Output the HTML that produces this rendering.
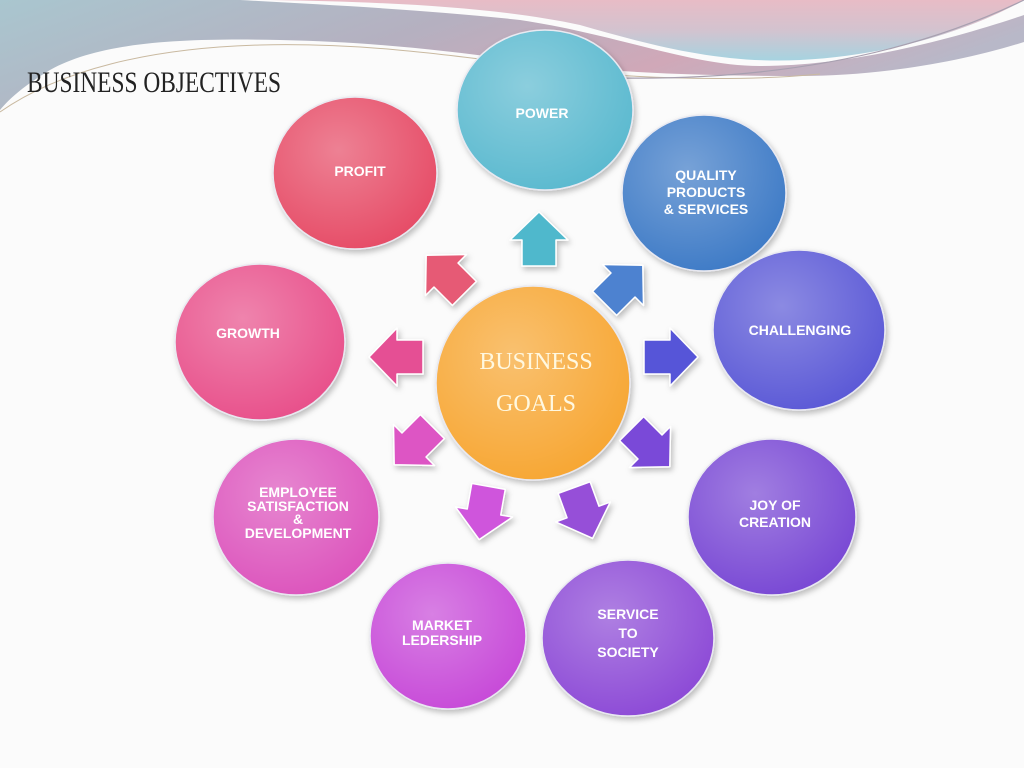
<!DOCTYPE html>
<html><head><meta charset="utf-8"><style>
html,body{margin:0;padding:0;background:#fff;}
svg{display:block}
.t{font-family:"Liberation Sans",sans-serif;font-weight:bold;fill:#fff;text-anchor:middle;font-size:14px;}
</style></head><body>
<svg width="1024" height="768" viewBox="0 0 1024 768" xmlns="http://www.w3.org/2000/svg">
<defs>
<linearGradient id="bgL" x1="0" y1="0" x2="1" y2="0.3">
<stop offset="0" stop-color="#a9c6cf"/><stop offset="0.45" stop-color="#b5b0c0"/><stop offset="0.75" stop-color="#d0a8b8"/><stop offset="1" stop-color="#b8b8c8"/></linearGradient>
<linearGradient id="bgR" x1="0" y1="0" x2="0" y2="1">
<stop offset="0" stop-color="#e8bcc6"/><stop offset="0.5" stop-color="#d3c3cf"/><stop offset="1" stop-color="#a6d3e0"/></linearGradient>
<radialGradient id="g" cx="0.4" cy="0.35" r="0.7"><stop offset="0" stop-color="#fff" stop-opacity="0.3"/><stop offset="1" stop-color="#fff" stop-opacity="0"/></radialGradient>
<filter id="sh" x="-20%" y="-20%" width="140%" height="140%"><feDropShadow dx="2" dy="3" stdDeviation="3" flood-color="#000" flood-opacity="0.25"/></filter>
<g id="ar"><path d="M-17,26 L-17,0 L-29,0 L0,-28 L29,0 L17,0 L17,26 Z" stroke="#fff" stroke-width="1.5" stroke-linejoin="round"/></g>
</defs>
<rect width="1024" height="768" fill="#fbfbfb"/>
<path d="M0,0 L240,0 C330,5 430,10 520,20 C620,35 690,66 760,66 C850,66 950,40 1024,15 L1024,42 C960,62 880,76 800,76 C720,76 640,74 560,66 C460,52 380,42 280,40 C180,38 100,42 50,70 C25,85 10,98 0,110 Z" fill="url(#bgL)"/>
<path d="M270,0 L1024,0 C980,25 900,55 800,60 C720,64 650,45 580,25 C500,8 400,2 270,0 Z" fill="url(#bgR)"/>
<path d="M0,112 C60,70 150,48 260,45 C380,42 480,60 600,74 C680,80 760,80 820,74" stroke="#c9b9a0" stroke-width="1" fill="none"/>
<path d="M620,78 C760,80 900,60 1024,0" stroke="#a8a0b0" stroke-width="1.2" fill="none"/>
<text x="27" y="92" font-family="Liberation Serif,serif" font-size="30" fill="#222" transform="scale(0.78,1)" style="transform-origin:27px 92px">BUSINESS OBJECTIVES</text>

<g filter="url(#sh)" stroke="#e8e8f0" stroke-width="1.5">
<ellipse cx="545" cy="110" rx="88" ry="80" fill="#5ab9cf"/>
<ellipse cx="355" cy="173" rx="82" ry="76" fill="#e64c66"/>
<ellipse cx="704" cy="193" rx="82" ry="78" fill="#3d7ac6"/>
<ellipse cx="260" cy="342" rx="85" ry="78" fill="#e8508a"/>
<ellipse cx="799" cy="330" rx="86" ry="80" fill="#5a58d6"/>
<ellipse cx="296" cy="517" rx="83" ry="78" fill="#dc52bc"/>
<ellipse cx="772" cy="517" rx="84" ry="78" fill="#7846d4"/>
<ellipse cx="448" cy="636" rx="78" ry="73" fill="#c74ad8"/>
<ellipse cx="628" cy="638" rx="86" ry="78" fill="#8c48d6"/>
<circle cx="533" cy="383" r="97" fill="#f7a631"/>
</g>
<g>
<ellipse cx="545" cy="110" rx="88" ry="80" fill="url(#g)"/>
<ellipse cx="355" cy="173" rx="82" ry="76" fill="url(#g)"/>
<ellipse cx="704" cy="193" rx="82" ry="78" fill="url(#g)"/>
<ellipse cx="260" cy="342" rx="85" ry="78" fill="url(#g)"/>
<ellipse cx="799" cy="330" rx="86" ry="80" fill="url(#g)"/>
<ellipse cx="296" cy="517" rx="83" ry="78" fill="url(#g)"/>
<ellipse cx="772" cy="517" rx="84" ry="78" fill="url(#g)"/>
<ellipse cx="448" cy="636" rx="78" ry="73" fill="url(#g)"/>
<ellipse cx="628" cy="638" rx="86" ry="78" fill="url(#g)"/>
<circle cx="533" cy="383" r="97" fill="url(#g)"/>
</g>

<g filter="url(#sh)">
<use href="#ar" transform="translate(539,240)" fill="#4fb8cc"/>
<use href="#ar" transform="translate(446,275) rotate(-45)" fill="#e65a74"/>
<use href="#ar" transform="translate(623,285) rotate(45)" fill="#4d82d0"/>
<use href="#ar" transform="translate(397,357) rotate(-90)" fill="#e55094"/>
<use href="#ar" transform="translate(670,357) rotate(90)" fill="#5654d8"/>
<use href="#ar" transform="translate(414,445) rotate(-135)" fill="#dd55c4"/>
<use href="#ar" transform="translate(650,447) rotate(135)" fill="#7a4ad8"/>
<use href="#ar" transform="translate(484,512) rotate(190)" fill="#cf55dc"/>
<use href="#ar" transform="translate(583,512) rotate(160)" fill="#9650d8"/>
</g>

<text class="t" x="542" y="118">POWER</text>
<text class="t" x="360" y="176">PROFIT</text>
<text class="t" x="706" y="180">QUALITY</text>
<text class="t" x="706" y="197">PRODUCTS</text>
<text class="t" x="706" y="214">&amp; SERVICES</text>
<text class="t" x="248" y="338" font-size="13">GROWTH</text>
<text class="t" x="800" y="335" font-size="13">CHALLENGING</text>
<text class="t" x="298" y="497" font-size="12">EMPLOYEE</text>
<text class="t" x="298" y="511" font-size="12">SATISFACTION</text>
<text class="t" x="298" y="524" font-size="12">&amp;</text>
<text class="t" x="298" y="538" font-size="12">DEVELOPMENT</text>
<text class="t" x="775" y="510" font-size="15">JOY OF</text>
<text class="t" x="775" y="527" font-size="15">CREATION</text>
<text class="t" x="442" y="630" font-size="13">MARKET</text>
<text class="t" x="442" y="645" font-size="13">LEDERSHIP</text>
<text class="t" x="628" y="619" font-size="15">SERVICE</text>
<text class="t" x="628" y="638" font-size="15">TO</text>
<text class="t" x="628" y="657" font-size="15">SOCIETY</text>
<text x="536" y="369" font-family="Liberation Serif,serif" font-size="24" fill="#fff8e0" text-anchor="middle">BUSINESS</text>
<text x="536" y="411" font-family="Liberation Serif,serif" font-size="24" fill="#fff8e0" text-anchor="middle">GOALS</text>
</svg>
</body></html>
